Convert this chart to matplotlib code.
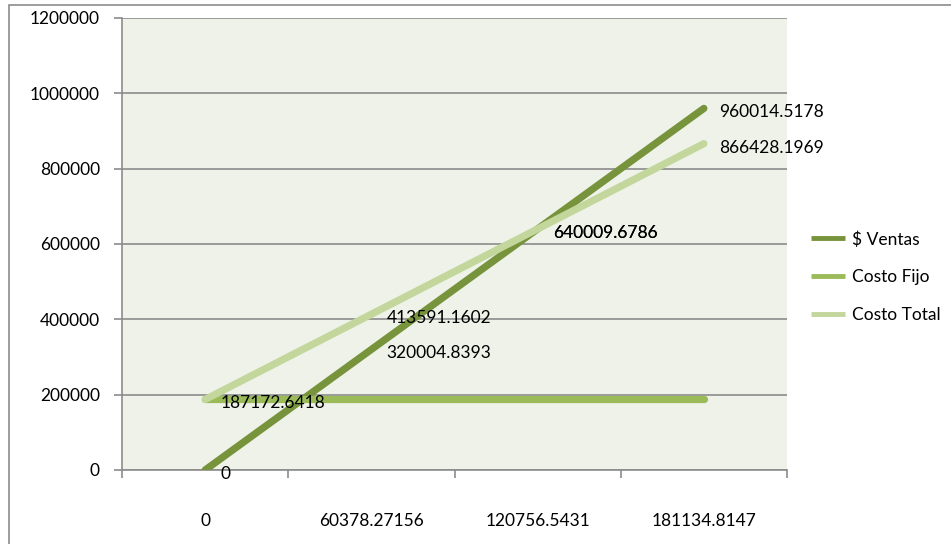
import matplotlib.pyplot as plt
from matplotlib.patches import Rectangle

# data
categorias = ['0', '60378.27156', '120756.5431', '181134.8147']
ventas = [0, 320004.8393, 640009.6786, 960014.5178]
costo_fijo = [187172.6418, 187172.6418, 187172.6418, 187172.6418]
costo_total = [187172.6418, 413591.1602, 640009.6786, 866428.1969]
etiquetas_ventas = ['0', '320004.8393', '640009.6786', '960014.5178']
etiquetas_total = ['187172.6418', '413591.1602', '640009.6786', '866428.1969']

plt.rcParams['font.family'] = ['Lato', 'DejaVu Sans']

fig = plt.figure(figsize=(9.51, 5.44), dpi=100, facecolor='white')
ax = fig.add_axes([122 / 951, 74 / 544, 665 / 951, 452 / 544])
ax.set_facecolor('#EEF2E8')

# outer chart frame (only top and left visible in original)
fig.patches.append(Rectangle((9 / 951, -0.2), 1.2, 1.2 - 5 / 544, transform=fig.transFigure,
                             fill=False, edgecolor='#8C8C8C', linewidth=1.2, clip_on=False))

x = range(len(categorias))
ax.plot(x, ventas, color='#77933C', lw=5.2, solid_capstyle='round', label='$ Ventas', zorder=3)
ax.plot(x, costo_fijo, color='#9BBB59', lw=5.2, solid_capstyle='round', label='Costo Fijo', zorder=3)
ax.plot(x, costo_total, color='#C3D69B', lw=5.2, solid_capstyle='round', label='Costo Total', zorder=3)

for i in x:
    ax.annotate(etiquetas_ventas[i], (i, ventas[i]), xytext=(15, -4), textcoords='offset pixels',
                va='center', ha='left', fontsize=12.5, color='black', zorder=4)
    ax.annotate(etiquetas_total[i], (i, costo_total[i]), xytext=(15, -4), textcoords='offset pixels',
                va='center', ha='left', fontsize=12.5, color='black', zorder=4)

ax.set_xlim(-0.5, 3.5)
ax.set_ylim(0, 1200000)
ax.set_yticks(range(0, 1200001, 200000))
ax.set_yticklabels([str(v) for v in range(0, 1200001, 200000)])
ax.yaxis.grid(True, color='#8C8C8C', linewidth=1.2)
ax.set_axisbelow(True)

ax.set_xticks(list(x))
ax.set_xticklabels(categorias)
ax.set_xticks([-0.5, 0.5, 1.5, 2.5, 3.5], minor=True)
ax.tick_params(axis='x', which='major', length=0, pad=31, labelsize=12.5)
ax.tick_params(axis='x', which='minor', length=6, width=1.2, color='#8C8C8C', direction='out')
ax.tick_params(axis='y', length=6, width=1.2, color='#8C8C8C', pad=10, labelsize=12.5)

for s in ['top', 'right']:
    ax.spines[s].set_visible(False)
for s in ['left', 'bottom']:
    ax.spines[s].set_color('#8C8C8C')
    ax.spines[s].set_linewidth(1.2)

leg = ax.legend(loc='center left', bbox_to_anchor=(795 / 951, 267 / 544), bbox_transform=fig.transFigure,
                frameon=False, fontsize=12.5, handlelength=2.0, handletextpad=0.4, labelspacing=1.25)
for line in leg.get_lines():
    line.set_linewidth(3.5)
    line.set_solid_capstyle('butt')

plt.savefig('out.png', dpi=100, facecolor='white')
